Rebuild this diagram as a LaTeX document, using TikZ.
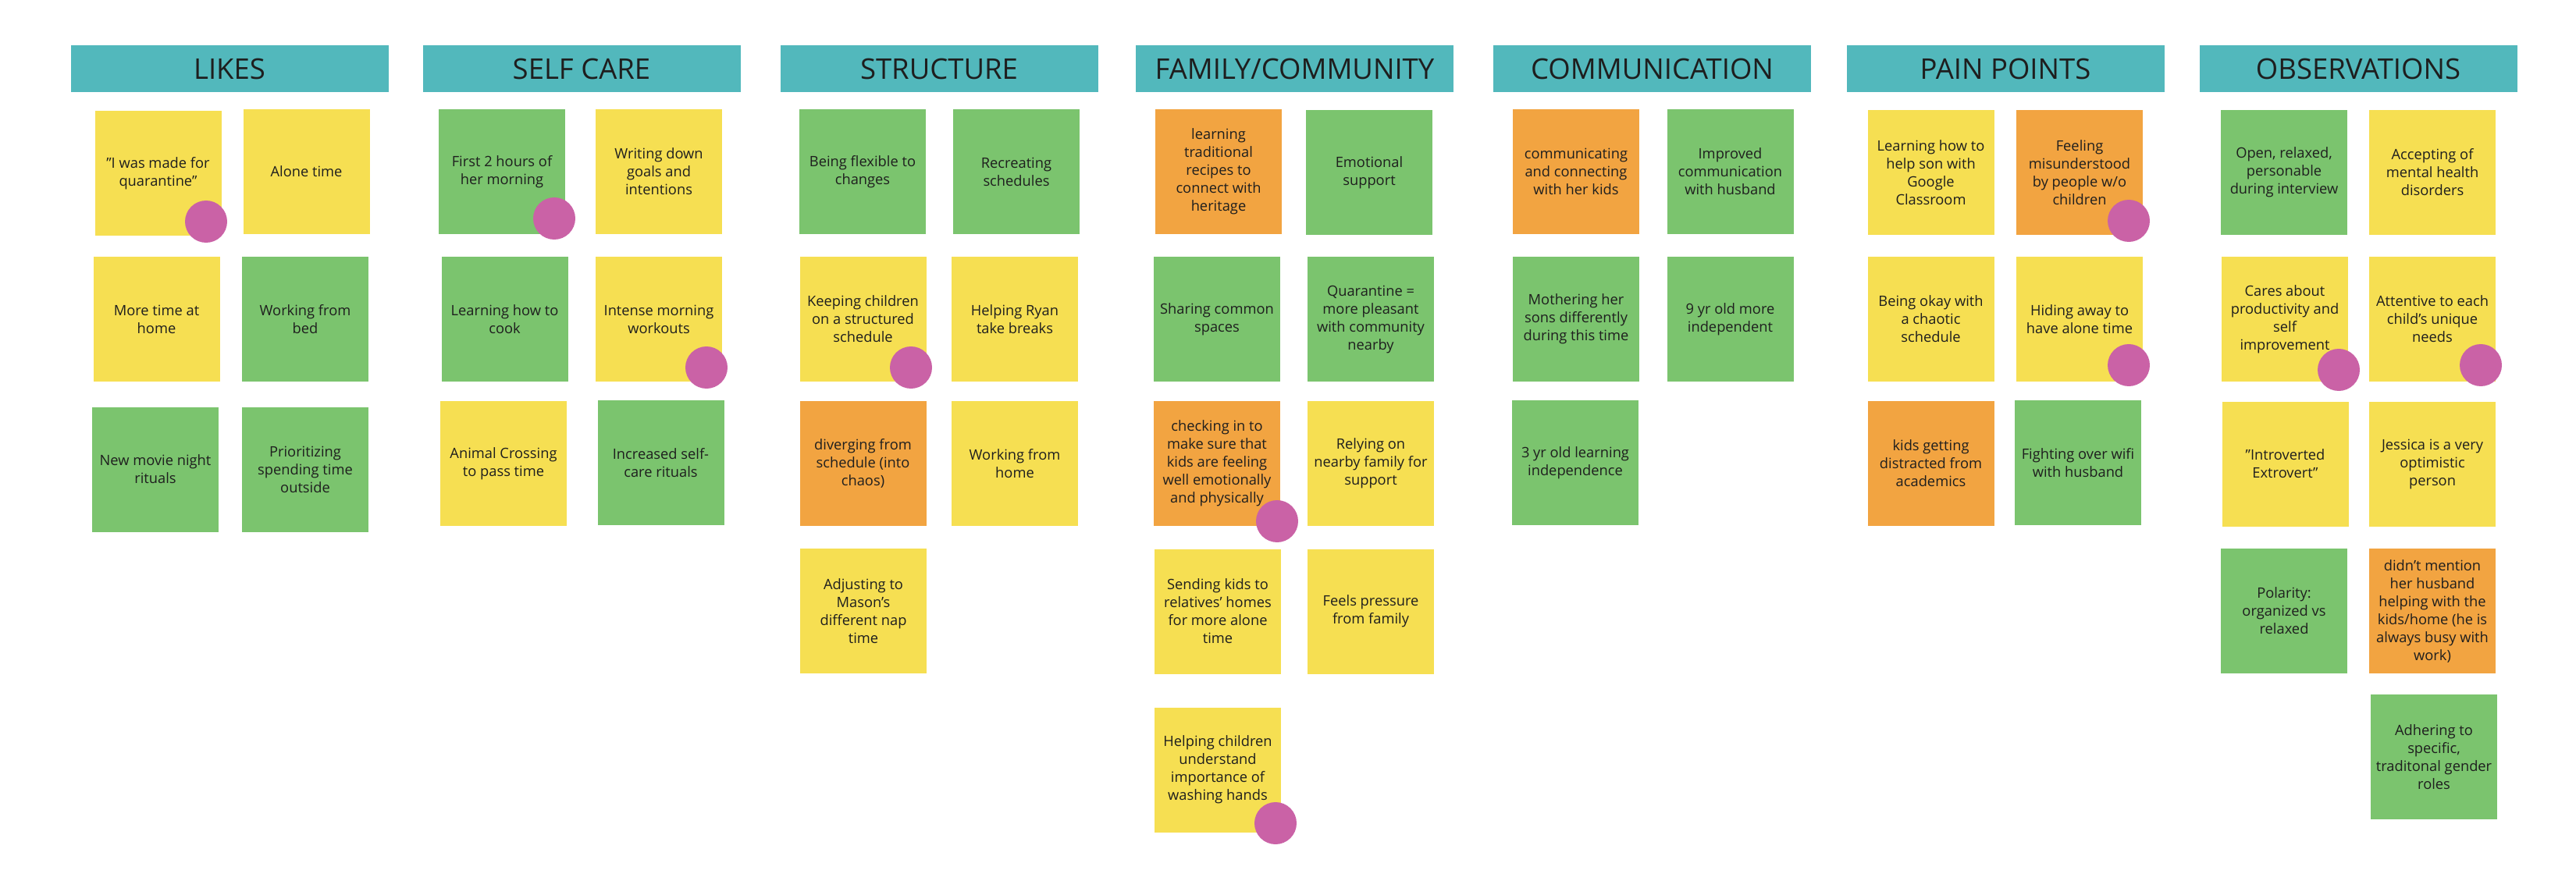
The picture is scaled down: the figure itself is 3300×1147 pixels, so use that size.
\documentclass[tikz,border=0pt]{standalone}
\usepackage{fontspec}
\setmainfont{Open Sans}
\definecolor{hdr}{HTML}{52B8BC}
\definecolor{ylw}{HTML}{F6DF52}
\definecolor{grn}{HTML}{7BC46E}
\definecolor{org}{HTML}{F2A441}
\definecolor{pnk}{HTML}{CA62A6}
\definecolor{ink}{HTML}{1E1E1E}
\begin{document}
\begin{tikzpicture}[x=1pt,y=-1pt,
  header/.style={fill=hdr, minimum width=407pt, minimum height=60pt, inner sep=0pt,
    font=\fontsize{36.5}{40}\selectfont, text=ink},
  note/.style={minimum width=162pt, minimum height=160pt, inner sep=0pt, align=center,
    font=\fontsize{18.3}{23}\selectfont, text=ink},
  yn/.style={note, fill=ylw},
  gn/.style={note, fill=grn},
  on/.style={note, fill=org},
  dot/.style={circle, fill=pnk, minimum size=54pt, inner sep=0pt}]
\useasboundingbox[fill=white] (0,0) rectangle (3300,1147);
% headers
\node[header] (hLikes) at (294,88) {LIKES};
\node[header] (hSelf) at (745,88) {SELF CARE};
\node[header] (hStruct) at (1203,88) {STRUCTURE};
\node[header] (hFam) at (1658.5,88) {FAMILY/COMMUNITY};
\node[header] (hComm) at (2116.5,88) {COMMUNICATION};
\node[header] (hPain) at (2569,88) {PAIN POINTS};
\node[header] (hObs) at (3021,88) {OBSERVATIONS};
% LIKES
\node[yn] (L1) at (202.5,222) {"I was made for\\quarantine"};
\node[yn] (L2) at (392.5,220) {Alone time};
\node[yn] (L3) at (200.5,409) {More time at\\home};
\node[gn] (L4) at (391,409) {Working from\\bed};
\node[gn] (L5) at (199,601.5) {New movie night\\rituals};
\node[gn] (L6) at (391,601.5) {Prioritizing\\spending time\\outside};
% SELF CARE
\node[gn] (S1) at (643,220) {First 2 hours of\\her morning};
\node[yn] (S2) at (844,220) {Writing down\\goals and\\intentions};
\node[gn] (S3) at (646.5,409) {Learning how to\\cook};
\node[yn] (S4) at (844,409) {Intense morning\\workouts};
\node[yn] (S5) at (645,594) {Animal Crossing\\to pass time};
\node[gn] (S6) at (846.5,593) {Increased self-\\care rituals};
% STRUCTURE
\node[gn] (T1) at (1105,220) {Being flexible to\\changes};
\node[gn] (T2) at (1302,220) {Recreating\\schedules};
\node[yn] (T3) at (1105.5,409) {Keeping children\\on a structured\\schedule};
\node[yn] (T4) at (1300,409) {Helping Ryan\\take breaks};
\node[on] (T5) at (1105.5,594) {diverging from\\schedule (into\\chaos)};
\node[yn] (T6) at (1300,594) {Working from\\home};
\node[yn] (T7) at (1106,783) {Adjusting to\\Mason's\\different nap\\time};
% FAMILY/COMMUNITY
\node[on] (F1) at (1561,220) {learning\\traditional\\recipes to\\connect with\\heritage};
\node[gn] (F2) at (1754,221) {Emotional\\support};
\node[gn] (F3) at (1559,409) {Sharing common\\spaces};
\node[gn] (F4) at (1756,409) {Quarantine =\\more pleasant\\with community\\nearby};
\node[on] (F5) at (1559,594) {checking in to\\make sure that\\kids are feeling\\well emotionally\\and physically};
\node[yn] (F6) at (1756,594) {Relying on\\nearby family for\\support};
\node[yn] (F7) at (1560,783.5) {Sending kids to\\relatives' homes\\for more alone\\time};
\node[yn] (F8) at (1756,783.5) {Feels pressure\\from family};
\node[yn] (F9) at (1560,986.5) {Helping children\\understand\\importance of\\washing hands};
% COMMUNICATION
\node[on] (C1) at (2019,220) {communicating\\and connecting\\with her kids};
\node[gn] (C2) at (2216.5,220) {Improved\\communication\\with husband};
\node[gn] (C3) at (2019,409) {Mothering her\\sons differently\\during this time};
\node[gn] (C4) at (2216.5,409) {9 yr old more\\independent};
\node[gn] (C5) at (2018,593) {3 yr old learning\\independence};
% PAIN POINTS
\node[yn] (P1) at (2473.5,221) {Learning how to\\help son with\\Google\\Classroom};
\node[on] (P2) at (2664,221) {Feeling\\misunderstood\\by people w/o\\children};
\node[yn] (P3) at (2473.5,409) {Being okay with\\a chaotic\\schedule};
\node[yn] (P4) at (2664,409) {Hiding away to\\have alone time};
\node[on] (P5) at (2473.5,594) {kids getting\\distracted from\\academics};
\node[gn] (P6) at (2662,593) {Fighting over wifi\\with husband};
% OBSERVATIONS
\node[gn] (O1) at (2926,221) {Open, relaxed,\\personable\\during interview};
\node[yn] (O2) at (3116,221) {Accepting of\\mental health\\disorders};
\node[yn] (O3) at (2927,409) {Cares about\\productivity and\\self\\improvement};
\node[yn] (O4) at (3116,409) {Attentive to each\\child's unique\\needs};
\node[yn] (O5) at (2927.5,594.5) {"Introverted\\Extrovert"};
\node[yn] (O6) at (3116,594.5) {Jessica is a very\\optimistic\\person};
\node[gn] (O7) at (2926,783) {Polarity:\\organized vs\\relaxed};
\node[on] (O8) at (3116,783) {didn't mention\\her husband\\helping with the\\kids/home (he is\\always busy with\\work)};
\node[gn] (O9) at (3118,970) {Adhering to\\specific,\\traditonal gender\\roles};
% dots
\node[dot] (dL1) at (264,284) {};
\node[dot] (dS1) at (710,280) {};
\node[dot] (dS4) at (905,471) {};
\node[dot] (dT3) at (1167,471) {};
\node[dot] (dF5) at (1636,668) {};
\node[dot] (dF9) at (1634,1055) {};
\node[dot] (dP2) at (2727,283) {};
\node[dot] (dP4) at (2727,468) {};
\node[dot] (dO3) at (2996,474) {};
\node[dot] (dO4) at (3178,468) {};
\end{tikzpicture}
\end{document}
